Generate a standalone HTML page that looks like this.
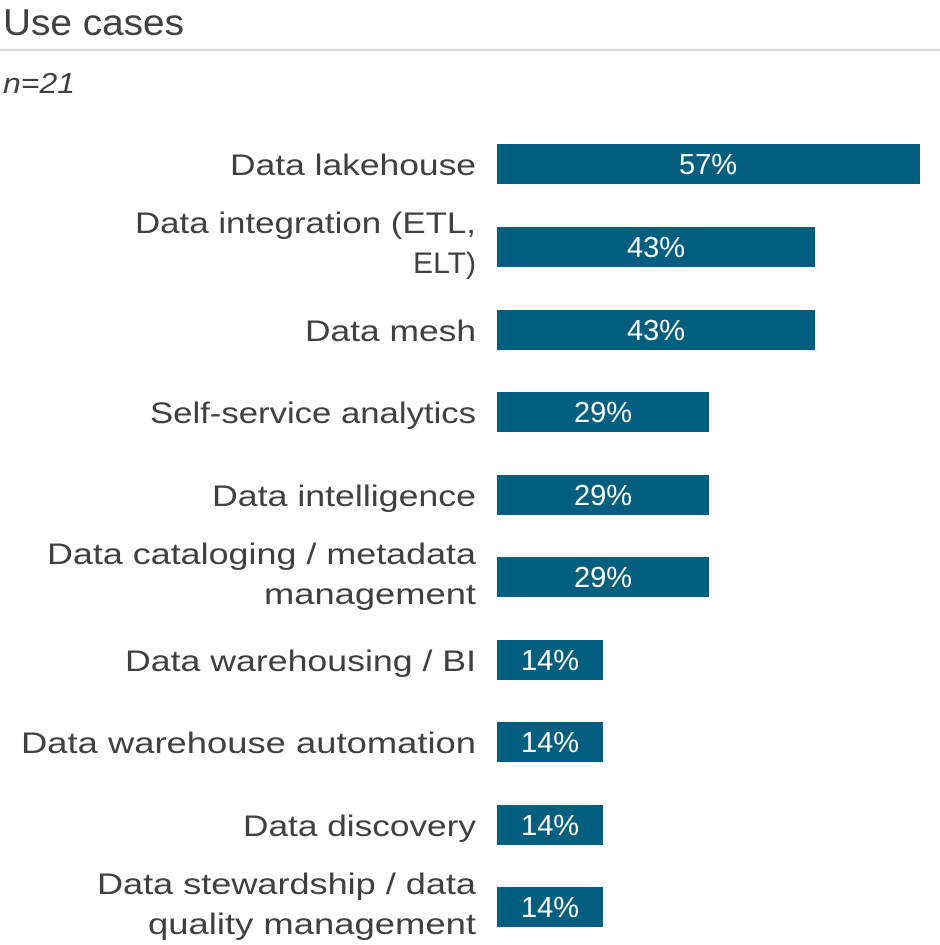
<!DOCTYPE html>
<html><head><meta charset="utf-8"><style>
body{margin:0;background:#fff;}
svg{display:block;font-family:"Liberation Sans",sans-serif;}
</style></head><body>
<svg width="940" height="945" xmlns="http://www.w3.org/2000/svg">
<text x="3" y="35" font-size="37" fill="#404040" textLength="181" lengthAdjust="spacingAndGlyphs">Use cases</text>
<rect x="0" y="49" width="940" height="2" fill="#d5d8dc"/>
<text x="3" y="93" font-size="29" font-style="italic" fill="#404040" textLength="72" lengthAdjust="spacingAndGlyphs">n=21</text>
<g font-size="30" fill="#404040" text-anchor="end">
<text x="476" y="175" textLength="246" lengthAdjust="spacingAndGlyphs">Data lakehouse</text>
<text x="476" y="233" textLength="341" lengthAdjust="spacingAndGlyphs">Data integration (ETL,</text>
<text x="476" y="273" textLength="63" lengthAdjust="spacingAndGlyphs">ELT)</text>
<text x="476" y="341" textLength="171" lengthAdjust="spacingAndGlyphs">Data mesh</text>
<text x="476" y="423" textLength="326" lengthAdjust="spacingAndGlyphs">Self-service analytics</text>
<text x="476" y="506" textLength="264" lengthAdjust="spacingAndGlyphs">Data intelligence</text>
<text x="476" y="564" textLength="429" lengthAdjust="spacingAndGlyphs">Data cataloging / metadata</text>
<text x="476" y="604" textLength="212" lengthAdjust="spacingAndGlyphs">management</text>
<text x="476" y="671" textLength="351" lengthAdjust="spacingAndGlyphs">Data warehousing / BI</text>
<text x="476" y="753" textLength="455" lengthAdjust="spacingAndGlyphs">Data warehouse automation</text>
<text x="476" y="836" textLength="233" lengthAdjust="spacingAndGlyphs">Data discovery</text>
<text x="476" y="894" textLength="379" lengthAdjust="spacingAndGlyphs">Data stewardship / data</text>
<text x="476" y="934" textLength="328" lengthAdjust="spacingAndGlyphs">quality management</text>
</g>
<g fill="#005f7f">
<rect x="497" y="144" width="423" height="40"/>
<rect x="497" y="227" width="318" height="40"/>
<rect x="497" y="310" width="318" height="40"/>
<rect x="497" y="392" width="212" height="40"/>
<rect x="497" y="475" width="212" height="40"/>
<rect x="497" y="557" width="212" height="40"/>
<rect x="497" y="640" width="106" height="40"/>
<rect x="497" y="722" width="106" height="40"/>
<rect x="497" y="805" width="106" height="40"/>
<rect x="497" y="887" width="106" height="40"/>
</g>
<g font-size="29" fill="#fff" text-anchor="middle">
<text x="708" y="174">57%</text>
<text x="656" y="257">43%</text>
<text x="656" y="340">43%</text>
<text x="603" y="422">29%</text>
<text x="603" y="505">29%</text>
<text x="603" y="587">29%</text>
<text x="550" y="670">14%</text>
<text x="550" y="752">14%</text>
<text x="550" y="835">14%</text>
<text x="550" y="917">14%</text>
</g>
</svg>
</body></html>
